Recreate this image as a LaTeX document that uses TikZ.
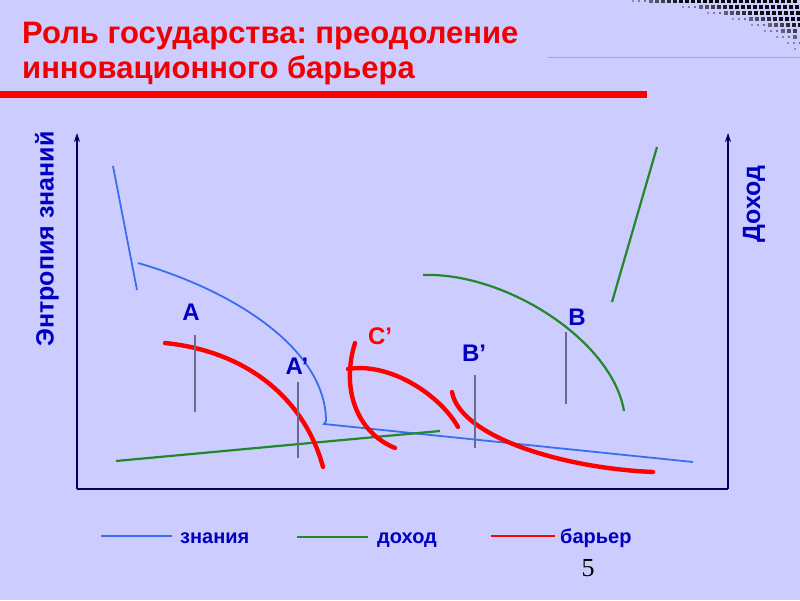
\documentclass[tikz,border=0pt]{standalone}
\usepackage{fontspec}
\setmainfont{Liberation Sans}
\newfontfamily\numfont{Liberation Serif}
\usetikzlibrary{arrows.meta}
\frenchspacing
\definecolor{bgcol}{HTML}{CCCCFF}
\definecolor{knowblue}{HTML}{3A6EF0}
\definecolor{incgreen}{HTML}{22882A}
\definecolor{barred}{HTML}{FF0000}
\definecolor{lblblue}{HTML}{0000C0}
\definecolor{axiscol}{HTML}{000060}
\definecolor{markgray}{HTML}{6A6A8C}
\definecolor{titlered}{HTML}{F00000}
\tikzset{
  know/.style={draw=knowblue, line width=1.8pt},
  inc/.style={draw=incgreen, line width=2.2pt},
  bar/.style={draw=barred, line width=4.4pt, line cap=round},
  axisline/.style={draw=axiscol, line width=2pt},
  marker/.style={draw=markgray, line width=1.3pt},
  ptlabel/.style={font=\bfseries\fontsize{24}{24}\selectfont, text=lblblue, inner sep=0pt},
  axislabel/.style={font=\bfseries\fontsize{25}{25}\selectfont, text=lblblue, inner sep=0pt, rotate=90},
  legtext/.style={font=\bfseries\fontsize{20}{20}\selectfont, text=lblblue, inner sep=0pt, anchor=base west},
  titletext/.style={font=\bfseries\fontsize{31}{31}\selectfont, text=titlered, inner sep=0pt, anchor=base west}
}
\begin{document}
\begin{tikzpicture}[x=1pt,y=-1pt]
\fill[bgcol] (0,0) rectangle (800,600);
\useasboundingbox (0,0) rectangle (800,600);
% halftone decoration
\foreach \yy/\xs [evaluate=\xs as \xsb using \xs+6] in {1/633,7/683,13/708,19/733,25/752,31/765,37/777,43/788,49/795}{
  \foreach \xx in {\xs,\xsb,...,800}{
    \pgfmathsetmacro\dd{\xx-\xs}
    \pgfmathsetmacro\ss{min(4.4,1.6+\dd/12)}
    \pgfmathsetmacro\cc{min(95,30+\dd*1.3)}
    \fill[black!\cc!bgcol] (\xx-\ss/2,\yy-\ss/2) rectangle ++(\ss,\ss);
  }
}
\draw[draw=black!18!bgcol, line width=1pt] (548,57) -- (800,57);
% title
\node[titletext] (t1) at (22,43) {Роль государства: преодоление};
\node[titletext] (t2) at (22,78) {инновационного барьера};
\fill[barred] (0,91) rectangle (647,98);
% axes
\coordinate (o) at (77,489);
\coordinate (ytop) at (77,133);
\coordinate (xr) at (728,489);
\coordinate (ytop2) at (728,133);
\draw[axisline, -{Stealth[length=9pt,width=6pt]}] (o) -- (ytop);
\draw[axisline] (o) -- (xr);
\draw[axisline, -{Stealth[length=9pt,width=6pt]}] (xr) -- (ytop2);
\node[axislabel] (ylab) at (47,239) {Энтропия знаний};
\node[axislabel] (ylab2) at (754,204) {Доход};
% knowledge (blue)
\draw[know] (113,166) -- (137,290);
\draw[know] (138,263) .. controls (238,292) and (326,351) .. (326,421) -- (324,424) -- (693,462);
% income (green)
\draw[inc] (116,461) -- (440,431);
\draw[inc] (423,275) .. controls (505,272) and (612,340) .. (624,411);
\draw[inc] (612,302) -- (657,147);
% barrier (red)
\draw[bar] (165,343) .. controls (245,351) and (304,397) .. (323,467);
\draw[bar] (355,343) .. controls (341,388) and (356,432) .. (395,448);
\draw[bar] (348,369) .. controls (390,362) and (440,395) .. (458,427);
\draw[bar] (452,392) .. controls (460,436) and (560,468) .. (653,472);
% markers
\draw[marker] (195,335) -- (195,412);
\draw[marker] (298,382) -- (298,458);
\draw[marker] (475,375) -- (475,448);
\draw[marker] (566,332) -- (566,404);
% point labels
\node[ptlabel] (la) at (191,312) {A};
\node[ptlabel] (laa) at (297,366) {A’};
\node[ptlabel, text=barred] (lc) at (380,336) {C’};
\node[ptlabel] (lbb) at (474,353) {B’};
\node[ptlabel] (lb) at (577,317) {B};
% legend
\draw[draw=knowblue, line width=2pt] (101,536) -- (172,536);
\node[legtext] (l1) at (180,543) {знания};
\draw[draw=incgreen, line width=2.6pt] (297,537) -- (368,537);
\node[legtext] (l2) at (377,543) {доход};
\draw[draw=barred, line width=2.6pt] (491,536) -- (555,536);
\node[legtext] (l3) at (560,543) {барьер};
\node[font=\numfont\fontsize{26}{26}\selectfont, inner sep=0pt] (pg) at (588,568) {5};
\end{tikzpicture}
\end{document}
